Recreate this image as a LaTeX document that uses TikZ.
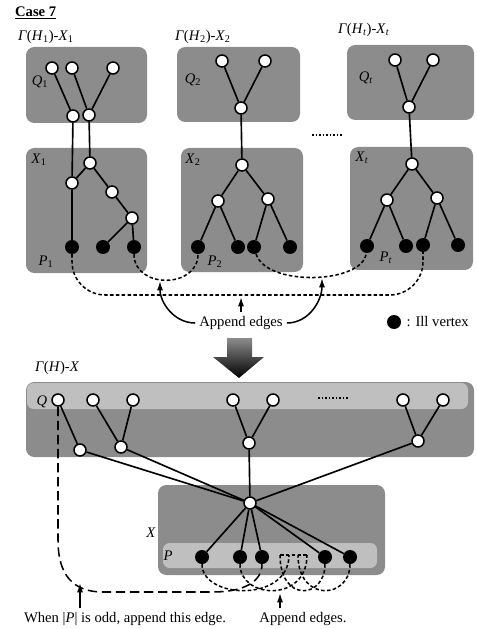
\documentclass[tikz,border=0pt]{standalone}
\usepackage{fontspec}
\setmainfont{Liberation Serif}
\usetikzlibrary{arrows.meta,positioning}

\newcommand{\vlab}[2]{\textit{#1}\textsubscript{#2}}

\begin{document}
\begin{tikzpicture}[
  x=0.03cm,y=-0.03cm,
  font=\fontsize{12.5}{14}\selectfont,
  box/.style={fill=black!45,rounded corners=0.25cm},
  strip/.style={fill=black!25,rounded corners=0.2cm},
  wv/.style={circle,draw,fill=white,line width=1.3pt,inner sep=0pt,minimum size=0.36cm},
  bv/.style={circle,fill=black,inner sep=0pt,minimum size=0.42cm},
  edge/.style={line width=1.4pt},
  append/.style={line width=1.3pt,dash pattern=on 3pt off 2pt},
  oddedge/.style={line width=1.3pt,dash pattern=on 8pt off 4pt},
  dots/.style={line width=1pt,dash pattern=on 1.5pt off 1.5pt},
  arrow/.style={-{Latex[length=2.8mm,width=1.8mm]},line width=1.3pt}]
\useasboundingbox (0,0) rectangle (476,629);

% titles
\node[anchor=west] (case) at (11,13) {\textbf{\underline{Case 7}}};
\node[anchor=west] (t1) at (14,37) {\textit{Γ}(\vlab{H}{1})-\vlab{X}{1}};
\node[anchor=west] (t2) at (171,37) {\textit{Γ}(\vlab{H}{2})-\vlab{X}{2}};
\node[anchor=west] (t3) at (334,30) {\textit{Γ}(\vlab{H}{\textit{t}})-\vlab{X}{\textit{t}}};

% boxes of the parts
\fill[box] (26,47) rectangle (147,123);
\fill[box] (26,148) rectangle (147,273);
\fill[box] (177,47) rectangle (300,122);
\fill[box] (181,148) rectangle (303,272);
\fill[box] (347,45) rectangle (474,120);
\fill[box] (350,147) rectangle (473,270);
\node (lq1) at (40,82) {\vlab{Q}{1}};
\node (lx1) at (39,160) {\vlab{X}{1}};
\node (lp1) at (46,262) {\vlab{P}{1}};
\node (lq2) at (193,80) {\vlab{Q}{2}};
\node (lx2) at (193,160) {\vlab{X}{2}};
\node (lp2) at (215,262) {\vlab{P}{2}};
\node (lqt) at (366,78) {\vlab{Q}{\textit{t}}};
\node (lxt) at (362,158) {\vlab{X}{\textit{t}}};
\node (lpt) at (386,258) {\vlab{P}{\textit{t}}};

% part 1
\node[wv] (q1a) at (52,68) {};
\node[wv] (q1b) at (72,68) {};
\node[wv] (q1c) at (113,68) {};
\node[wv] (q1d) at (73,116) {};
\node[wv] (q1e) at (89,115) {};
\node[wv] (x1a) at (90,163) {};
\node[wv] (x1b) at (72,183) {};
\node[wv] (x1c) at (112,192) {};
\node[wv] (x1d) at (132,218) {};
\node[bv] (p1a) at (72,247) {};
\node[bv] (p1b) at (103,247) {};
\node[bv] (p1c) at (134,247) {};
\draw[edge] (q1a)--(q1d);
\draw[edge] (q1b)--(q1e);
\draw[edge] (q1c)--(q1e);
\draw[edge] (q1d)--(x1b);
\draw[edge] (q1e)--(x1a);
\draw[edge] (x1a)--(x1b);
\draw[edge] (x1a)--(x1c);
\draw[edge] (x1c)--(x1d);
\draw[edge] (x1b)--(p1a);
\draw[edge] (x1d)--(p1b);
\draw[edge] (x1d)--(p1c);

% part 2
\node[wv] (q2a) at (222,61) {};
\node[wv] (q2b) at (265,61) {};
\node[wv] (q2c) at (241,108) {};
\node[wv] (x2a) at (242,165) {};
\node[wv] (x2b) at (218,201) {};
\node[wv] (x2c) at (268,199) {};
\node[bv] (p2a) at (198,247) {};
\node[bv] (p2b) at (238,247) {};
\node[bv] (p2c) at (254,247) {};
\node[bv] (p2d) at (290,247) {};
\draw[edge] (q2a)--(q2c);
\draw[edge] (q2b)--(q2c);
\draw[edge] (q2c)--(x2a);
\draw[edge] (x2a)--(x2b);
\draw[edge] (x2a)--(x2c);
\draw[edge] (x2b)--(p2a);
\draw[edge] (x2b)--(p2b);
\draw[edge] (x2c)--(p2c);
\draw[edge] (x2c)--(p2d);

\draw[dots] (312,135)--(342,135);

% part t
\node[wv] (qta) at (395,60) {};
\node[wv] (qtb) at (433,60) {};
\node[wv] (qtc) at (409,107) {};
\node[wv] (xta) at (412,164) {};
\node[wv] (xtb) at (387,200) {};
\node[wv] (xtc) at (437,198) {};
\node[bv] (pta) at (367,246) {};
\node[bv] (ptb) at (406,246) {};
\node[bv] (ptc) at (423,245) {};
\node[bv] (ptd) at (458,245) {};
\draw[edge] (qta)--(qtc);
\draw[edge] (qtb)--(qtc);
\draw[edge] (qtc)--(xta);
\draw[edge] (xta)--(xtb);
\draw[edge] (xta)--(xtc);
\draw[edge] (xtb)--(pta);
\draw[edge] (xtb)--(ptb);
\draw[edge] (xtc)--(ptc);
\draw[edge] (xtc)--(ptd);

% appended edges between the parts
\draw[append,rounded corners=1cm] (p1a) -- ++(0,48) -| (ptc);
\draw[append] (p1c) .. controls +(0,42) and +(0,42) .. (p2a);
\draw[append] (p2c) .. controls +(12,40) and +(-4,38) .. (pta);
\node (apptop) at (241,323) {Append edges};
\coordinate (tip1) at (160,281);
\coordinate (tip2) at (241,297);
\coordinate (tip3) at (322,278);
\draw[arrow] (apptop.west) to[out=180,in=-90] (tip1);
\draw[arrow] (apptop.north) -- (tip2);
\draw[arrow] (apptop.east) to[out=0,in=-90] (tip3);
\node[bv] (legdot) at (394,322) {};
\node[right=1pt of legdot] (legtext) {: Ill vertex};

% big arrow
\shade[top color=black!45,bottom color=black] (227,338) -- (252,338) -- (252,357) -- (264,357)
  -- (239,378) -- (213,357) -- (227,357) -- cycle;

% merged graph
\node[anchor=west] (tg) at (31,368) {\textit{Γ}(\textit{H})-\textit{X}};
\fill[box] (26,382) rectangle (474,457);
\fill[strip] (27,383) rectangle (468,409);
\fill[box] (158,485) rectangle (385,575);
\fill[strip] (163,543) rectangle (377,568);
\node (lq) at (42,402) {\textit{Q}};
\node (lx) at (151,533) {\textit{X}};
\node (lp) at (168,556) {\textit{P}};
\draw[dots] (318,398)--(348,398);

\node[wv] (qa) at (58,400) {};
\node[wv] (qb) at (93,400) {};
\node[wv] (qc) at (133,400) {};
\node[wv] (qd) at (233,400) {};
\node[wv] (qe) at (273,400) {};
\node[wv] (qf) at (403,400) {};
\node[wv] (qg) at (443,400) {};
\node[wv] (qh) at (80,450) {};
\node[wv] (qi) at (121,447) {};
\node[wv] (qj) at (249,443) {};
\node[wv] (qk) at (418,441) {};
\node[wv] (xc) at (250,503) {};
\node[bv] (pa) at (202,557) {};
\node[bv] (pb) at (240,557) {};
\node[bv] (pc) at (262,557) {};
\node[bv] (pd) at (325,557) {};
\node[bv] (pe) at (350,557) {};
\draw[edge] (qa)--(qh);
\draw[edge] (qb)--(qi);
\draw[edge] (qc)--(qi);
\draw[edge] (qd)--(qj);
\draw[edge] (qe)--(qj);
\draw[edge] (qf)--(qk);
\draw[edge] (qg)--(qk);
\draw[edge] (qh)--(xc);
\draw[edge] (qi)--(xc);
\draw[edge] (qj)--(xc);
\draw[edge] (qk)--(xc);
\draw[edge] (xc)--(pa);
\draw[edge] (xc)--(pb);
\draw[edge] (xc)--(pc);
\draw[edge] (xc)--(pd);
\draw[edge] (xc)--(pe);

% hidden vertices of P and the appended edges
\coordinate (h1) at (280,555);
\coordinate (h2) at (289,555);
\coordinate (h3) at (298,555);
\coordinate (h4) at (307,555);
\draw[append] (h1)--(h4);
\draw[append] (pa) .. controls +(0,42) and +(0,48) .. (h2);
\draw[append] (pb) .. controls +(0,42) and +(0,48) .. (h4);
\draw[append] (pd) .. controls +(0,42) and +(0,48) .. (h1);
\draw[append] (pe) .. controls +(0,42) and +(0,48) .. (h3);
\draw[oddedge] (qa) -- ++(0,140) .. controls +(0,35) and +(-30,0) .. ++(45,52)
  -- ++(110,0) .. controls +(30,0) and +(0,25) .. (pc);

\node (oddtext) at (125,619) {When |\textit{P}| is odd, append this edge.};
\node (appbot) at (303,619) {Append edges.};
\coordinate (tip4) at (80,583);
\coordinate (tip5) at (280,593);
\draw[arrow] (oddtext.north -| tip4) -- (tip4);
\draw[arrow] (appbot.north -| tip5) -- (tip5);
\end{tikzpicture}
\end{document}
